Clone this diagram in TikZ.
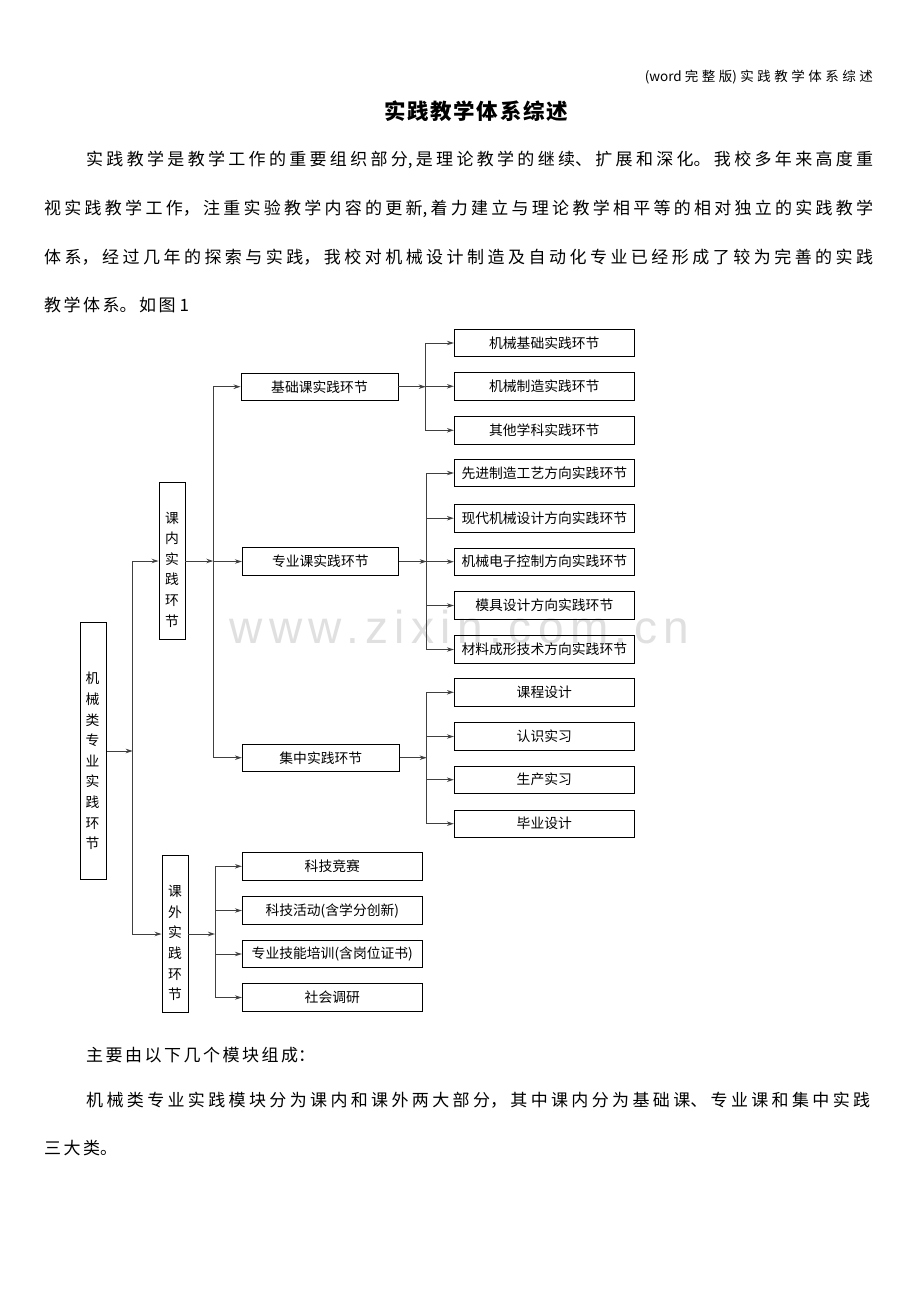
\documentclass[tikz,border=0pt]{standalone}
\usepackage{fontspec}
\newfontfamily\cjk{Noto Sans CJK SC}
\newfontfamily\wmfont[LetterSpace=14]{Liberation Sans}
\usetikzlibrary{arrows.meta}
\XeTeXlinebreaklocale "zh"
\XeTeXlinebreakskip=0pt
\newcommand\jline[2]{\parbox{#1}{\parindent=0pt\parfillskip=0pt\XeTeXlinebreakskip=0pt plus 30pt\relax #2}}
\newcommand\nline[1]{\parbox{500pt}{\parindent=0pt\parfillskip=0pt plus 1fil\XeTeXlinebreakskip=2.5pt\relax #1}}
\tikzset{
  box/.style={draw=black, line width=0.9pt, inner sep=0pt, minimum height=27.5pt, font=\cjk\fontsize{13.8}{16}\selectfont},
  rbox/.style={box, minimum width=180pt},
  vbox/.style={draw=black, line width=0.9pt, inner sep=0pt, minimum width=26pt},
  vtext/.style={align=center, inner sep=0pt, font=\cjk\fontsize{13.8}{20.6}\selectfont},
  arr/.style={draw=black!75, line width=1pt, -{Stealth[length=7pt,width=4.5pt]}},
  para/.style={anchor=west, inner sep=0pt, font=\cjk\fontsize{17}{20}\selectfont},
}
\begin{document}
\begin{tikzpicture}[x=1pt,y=-1pt]
\fill[white] (0,0) rectangle (920,1302);
\useasboundingbox (0,0) rectangle (920,1302);

% watermark
\node[anchor=base, inner sep=0pt, text=black!12, font=\wmfont\fontsize{46}{50}\selectfont] (wm) at (459.5,643) {www.zixin.com.cn};

% header, title, paragraph
\node[anchor=east, inner sep=0pt, font=\cjk\fontsize{13.5}{15}\selectfont] (hdr) at (873,76.7) {\jline{228pt}{(word 完整版)实践教学体系综述}};
\node[inner sep=0pt, font=\cjk\bfseries\fontsize{21.5}{24}\selectfont] (title) at (476,111.7) {\jline{184pt}{实践教学体系综述}};
\node[para] (p1) at (86,160) {\jline{787pt}{实践教学是教学工作的重要组织部分,是理论教学的继续、扩展和深化。我校多年来高度重}};
\node[para] (p2) at (44,209) {\jline{829pt}{视实践教学工作，注重实验教学内容的更新,着力建立与理论教学相平等的相对独立的实践教学}};
\node[para] (p3) at (44,256.7) {\jline{829pt}{体系，经过几年的探索与实践，我校对机械设计制造及自动化专业已经形成了较为完善的实践}};
\node[para] (p4) at (44,305) {\nline{教学体系。如图 1}};

\node[para] (q1) at (86,1055) {\nline{主要由以下几个模块组成：}};
\node[para] (q2) at (86,1100) {\jline{784pt}{机械类专业实践模块分为课内和课外两大部分，其中课内分为基础课、专业课和集中实践}};
\node[para] (q3) at (44,1147.7) {\nline{三大类。}};

% vertical boxes
\node[vbox, minimum height=256.6pt] (jx) at (93.5,751) {};
\node[vtext] (jxt) at (92.5,761) {机\\械\\类\\专\\业\\实\\践\\环\\节};
\node[vbox, minimum height=156.6pt] (kn) at (172,561) {};
\node[vtext] (knt) at (172,569.5) {课\\内\\实\\践\\环\\节};
\node[vbox, minimum height=156.3pt] (kw) at (175,934) {};
\node[vtext] (kwt) at (175,943) {课\\外\\实\\践\\环\\节};

% middle boxes
\node[box, minimum width=157pt] (jc) at (319.5,386.7) {基础课实践环节};
\node[box, minimum width=156pt] (zy) at (320.3,561.5) {专业课实践环节};
\node[box, minimum width=157pt] (jz) at (320.8,757.7) {集中实践环节};

% right column
\node[rbox] (r1) at (544.3,343) {机械基础实践环节};
\node[rbox] (r2) at (544.3,386.3) {机械制造实践环节};
\node[rbox] (r3) at (544.3,430.3) {其他学科实践环节};
\node[rbox] (r4) at (544.3,473) {先进制造工艺方向实践环节};
\node[rbox] (r5) at (544.3,518.2) {现代机械设计方向实践环节};
\node[rbox] (r6) at (544.3,561.7) {机械电子控制方向实践环节};
\node[rbox] (r7) at (544.3,605.5) {模具设计方向实践环节};
\node[rbox] (r8) at (544.3,649.5) {材料成形技术方向实践环节};
\node[rbox] (r9) at (544.3,692.3) {课程设计};
\node[rbox] (r10) at (544.3,736.5) {认识实习};
\node[rbox] (r11) at (544.3,779.7) {生产实习};
\node[rbox] (r12) at (544.3,823.7) {毕业设计};

% extracurricular children
\node[rbox] (w1) at (332.3,866.3) {科技竞赛};
\node[rbox] (w2) at (332.3,910.5) {科技活动(含学分创新)};
\node[rbox] (w3) at (332.3,954) {专业技能培训(含岗位证书)};
\node[rbox] (w4) at (332.3,997.5) {社会调研};

% trunk x positions
\coordinate (T1) at (132.7,0);
\coordinate (T2) at (213.3,0);
\coordinate (T3) at (425.7,0);
\coordinate (T4) at (426.7,0);
\coordinate (T5) at (426.7,0);
\coordinate (T6) at (215,0);

% connectors
\draw[arr] (jx.east) -- (jx.east -| T1);
\draw[arr] (jx.east -| T1) |- (kn.west);
\draw[arr] (jx.east -| T1) |- (kw.west);

\draw[arr] (kn.east) -- (kn.east -| T2);
\foreach \c in {jc,zy,jz} \draw[arr] (kn.east -| T2) |- (\c.west);

\draw[arr] (jc.east) -- (jc.east -| T3);
\foreach \c in {r1,r2,r3} \draw[arr] (jc.east -| T3) |- (\c.west);

\draw[arr] (zy.east) -- (zy.east -| T4);
\foreach \c in {r4,r5,r6,r7,r8} \draw[arr] (zy.east -| T4) |- (\c.west);

\draw[arr] (jz.east) -- (jz.east -| T5);
\foreach \c in {r9,r10,r11,r12} \draw[arr] (jz.east -| T5) |- (\c.west);

\draw[arr] (kw.east) -- (kw.east -| T6);
\foreach \c in {w1,w2,w3,w4} \draw[arr] (kw.east -| T6) |- (\c.west);
\end{tikzpicture}
\end{document}
